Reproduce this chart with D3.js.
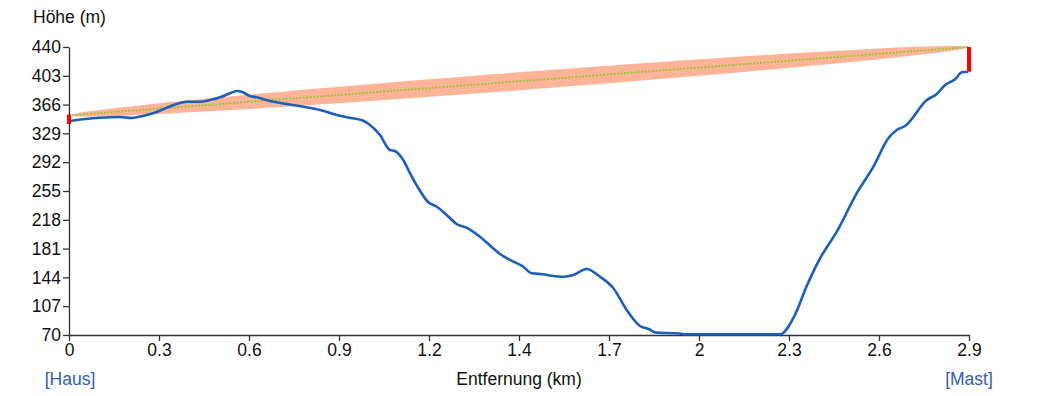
<!DOCTYPE html>
<html>
<head>
<meta charset="utf-8">
<script src="https://cdn.jsdelivr.net/npm/d3@7"></script>
<style>
  body { margin: 0; background: #fff; }
  svg { font-family: "Liberation Sans", Arial, sans-serif; }
</style>
</head>
<body>
<div id="chart"></div>
<script>
// Geländeprofil (Entfernung in km, Höhe in m)
const distances = [0, 0.045, 0.100, 0.164, 0.202, 0.238, 0.271, 0.315, 0.347, 0.379, 0.422, 0.454, 0.487, 0.519,
  0.540, 0.556, 0.583, 0.605, 0.648, 0.701, 0.755, 0.809, 0.863, 0.895, 0.948, 0.970, 1.002, 1.034, 1.050, 1.077,
  1.099, 1.126, 1.158, 1.185, 1.217, 1.249, 1.281, 1.324, 1.389, 1.421, 1.464, 1.491, 1.528, 1.555, 1.593, 1.625,
  1.668, 1.711, 1.754, 1.797, 1.840, 1.867, 1.894, 1.958, 1.990, 2.291, 2.339, 2.377, 2.420, 2.474, 2.538, 2.592,
  2.640, 2.667, 2.694, 2.764, 2.796, 2.823, 2.855, 2.877, 2.898];
const heights = [344.9, 347.1, 349.2, 350.1, 348.8, 351.4, 354.8, 362.0, 366.8, 369.7, 369.7, 371.9, 375.4, 380.5,
  383.5, 382.6, 377.0, 375.4, 370.6, 366.8, 363.3, 359.1, 352.6, 349.7, 345.3, 339.8, 326.9, 307.7, 306.4, 294.8,
  277.7, 258.5, 240.5, 234.8, 224.2, 212.6, 207.9, 196.3, 174.1, 166.4, 157.7, 149.3, 148.0, 146.2, 144.9, 147.1,
  154.8, 144.9, 130.0, 102.1, 81.6, 77.7, 73.0, 72.2, 70.9, 70.9, 95.7, 132.9, 168.5, 202.7, 252.0, 286.2,
  322.7, 333.4, 338.5, 371.9, 379.6, 391.2, 398.5, 407.5, 408.3];

const totalKm = 2.9;
const antennaStart = 352;   // Haus
const antennaEnd = 440;     // Mast
const fresnelMax = 11.5;    // m, Radius in der Mitte

const yTicks = [70, 107, 144, 181, 218, 255, 292, 329, 366, 403, 440];
const xTickLabels = ["0", "0.3", "0.6", "0.9", "1.2", "1.4", "1.7", "2", "2.3", "2.6", "2.9"];

var fontSize = "17.5px";
var margin = {top: 47, right: 82, bottom: 61, left: 69},
    width = 1051 - margin.left - margin.right,
    height = 396 - margin.top - margin.bottom;

var svg = d3.select("#chart").append("svg")
    .attr("width", 1051)
    .attr("height", 396);
var g = svg.append("g")
    .attr("transform", "translate(" + margin.left + "," + margin.top + ")");

var x = d3.scaleLinear().domain([0, totalKm]).range([0, width]);
var y = d3.scaleLinear().domain([70, 440]).range([height, 0]);

// Fresnelzone
var los = d => antennaStart + (antennaEnd - antennaStart) * d / totalKm;
var rad = d => fresnelMax * 2 * Math.sqrt(Math.max(0, d * (totalKm - d))) / totalKm;
var steps = d3.range(0, 101).map(i => i * totalKm / 100);
g.append("path")
    .datum(steps)
    .attr("fill", "#ffb398")
    .attr("d", d3.area()
        .x(d => x(d))
        .y0(d => y(los(d) - rad(d)))
        .y1(d => y(los(d) + rad(d))));

// Sichtlinie
g.append("line")
    .attr("x1", x(0)).attr("y1", y(antennaStart))
    .attr("x2", x(totalKm)).attr("y2", y(antennaEnd))
    .attr("stroke", "#9cc334")
    .attr("stroke-width", 2)
    .attr("stroke-dasharray", "2,1.5");

// Achsen
var xAxis = g.append("g")
    .attr("transform", "translate(0," + height + ")")
    .call(d3.axisBottom(x)
        .tickValues(xTickLabels.map((t, i) => i * totalKm / (xTickLabels.length - 1)))
        .tickFormat((d, i) => xTickLabels[i])
        .tickSizeOuter(0));
var yAxis = g.append("g")
    .call(d3.axisLeft(y).tickValues(yTicks).tickFormat(d3.format("d")).tickPadding(2).tickSizeOuter(0));
[xAxis, yAxis].forEach(a => {
    a.selectAll("path, line").attr("stroke", "#333").attr("stroke-width", 1.3);
    a.selectAll("text").attr("fill", "#111").style("font-size", fontSize)
        .style("font-family", "'Liberation Sans', Arial, sans-serif");
});

// Gelände
var profile = distances.map((d, i) => [d, heights[i]]);
g.append("path")
    .datum(profile)
    .attr("fill", "none")
    .attr("stroke", "#1c5fbb")
    .attr("stroke-width", 2.6)
    .attr("stroke-linejoin", "round")
    .attr("d", d3.line().x(d => x(d[0])).y(d => y(d[1])).curve(d3.curveMonotoneX));

// Antennenmasten
g.append("line")
    .attr("x1", x(0)).attr("x2", x(0))
    .attr("y1", y(heights[0]) + 3).attr("y2", y(antennaStart) - 1)
    .attr("stroke", "red").attr("stroke-width", 4);
g.append("line")
    .attr("x1", x(totalKm)).attr("x2", x(totalKm))
    .attr("y1", y(heights[heights.length - 1])).attr("y2", y(antennaEnd))
    .attr("stroke", "red").attr("stroke-width", 4);

// Beschriftungen
svg.append("text")
    .attr("x", 33).attr("y", 23)
    .attr("fill", "#111")
    .style("font-size", fontSize)
    .text("Höhe (m)");
svg.append("text")
    .attr("x", margin.left + width / 2).attr("y", 385)
    .attr("text-anchor", "middle")
    .attr("fill", "#111")
    .style("font-size", fontSize)
    .text("Entfernung (km)");
svg.append("text")
    .attr("x", margin.left + 1).attr("y", 385)
    .attr("text-anchor", "middle")
    .attr("fill", "#2f60b4")
    .style("font-size", fontSize)
    .text("[Haus]");
svg.append("text")
    .attr("x", margin.left + width).attr("y", 385)
    .attr("text-anchor", "middle")
    .attr("fill", "#2f60b4")
    .style("font-size", fontSize)
    .text("[Mast]");
</script>
</body>
</html>
